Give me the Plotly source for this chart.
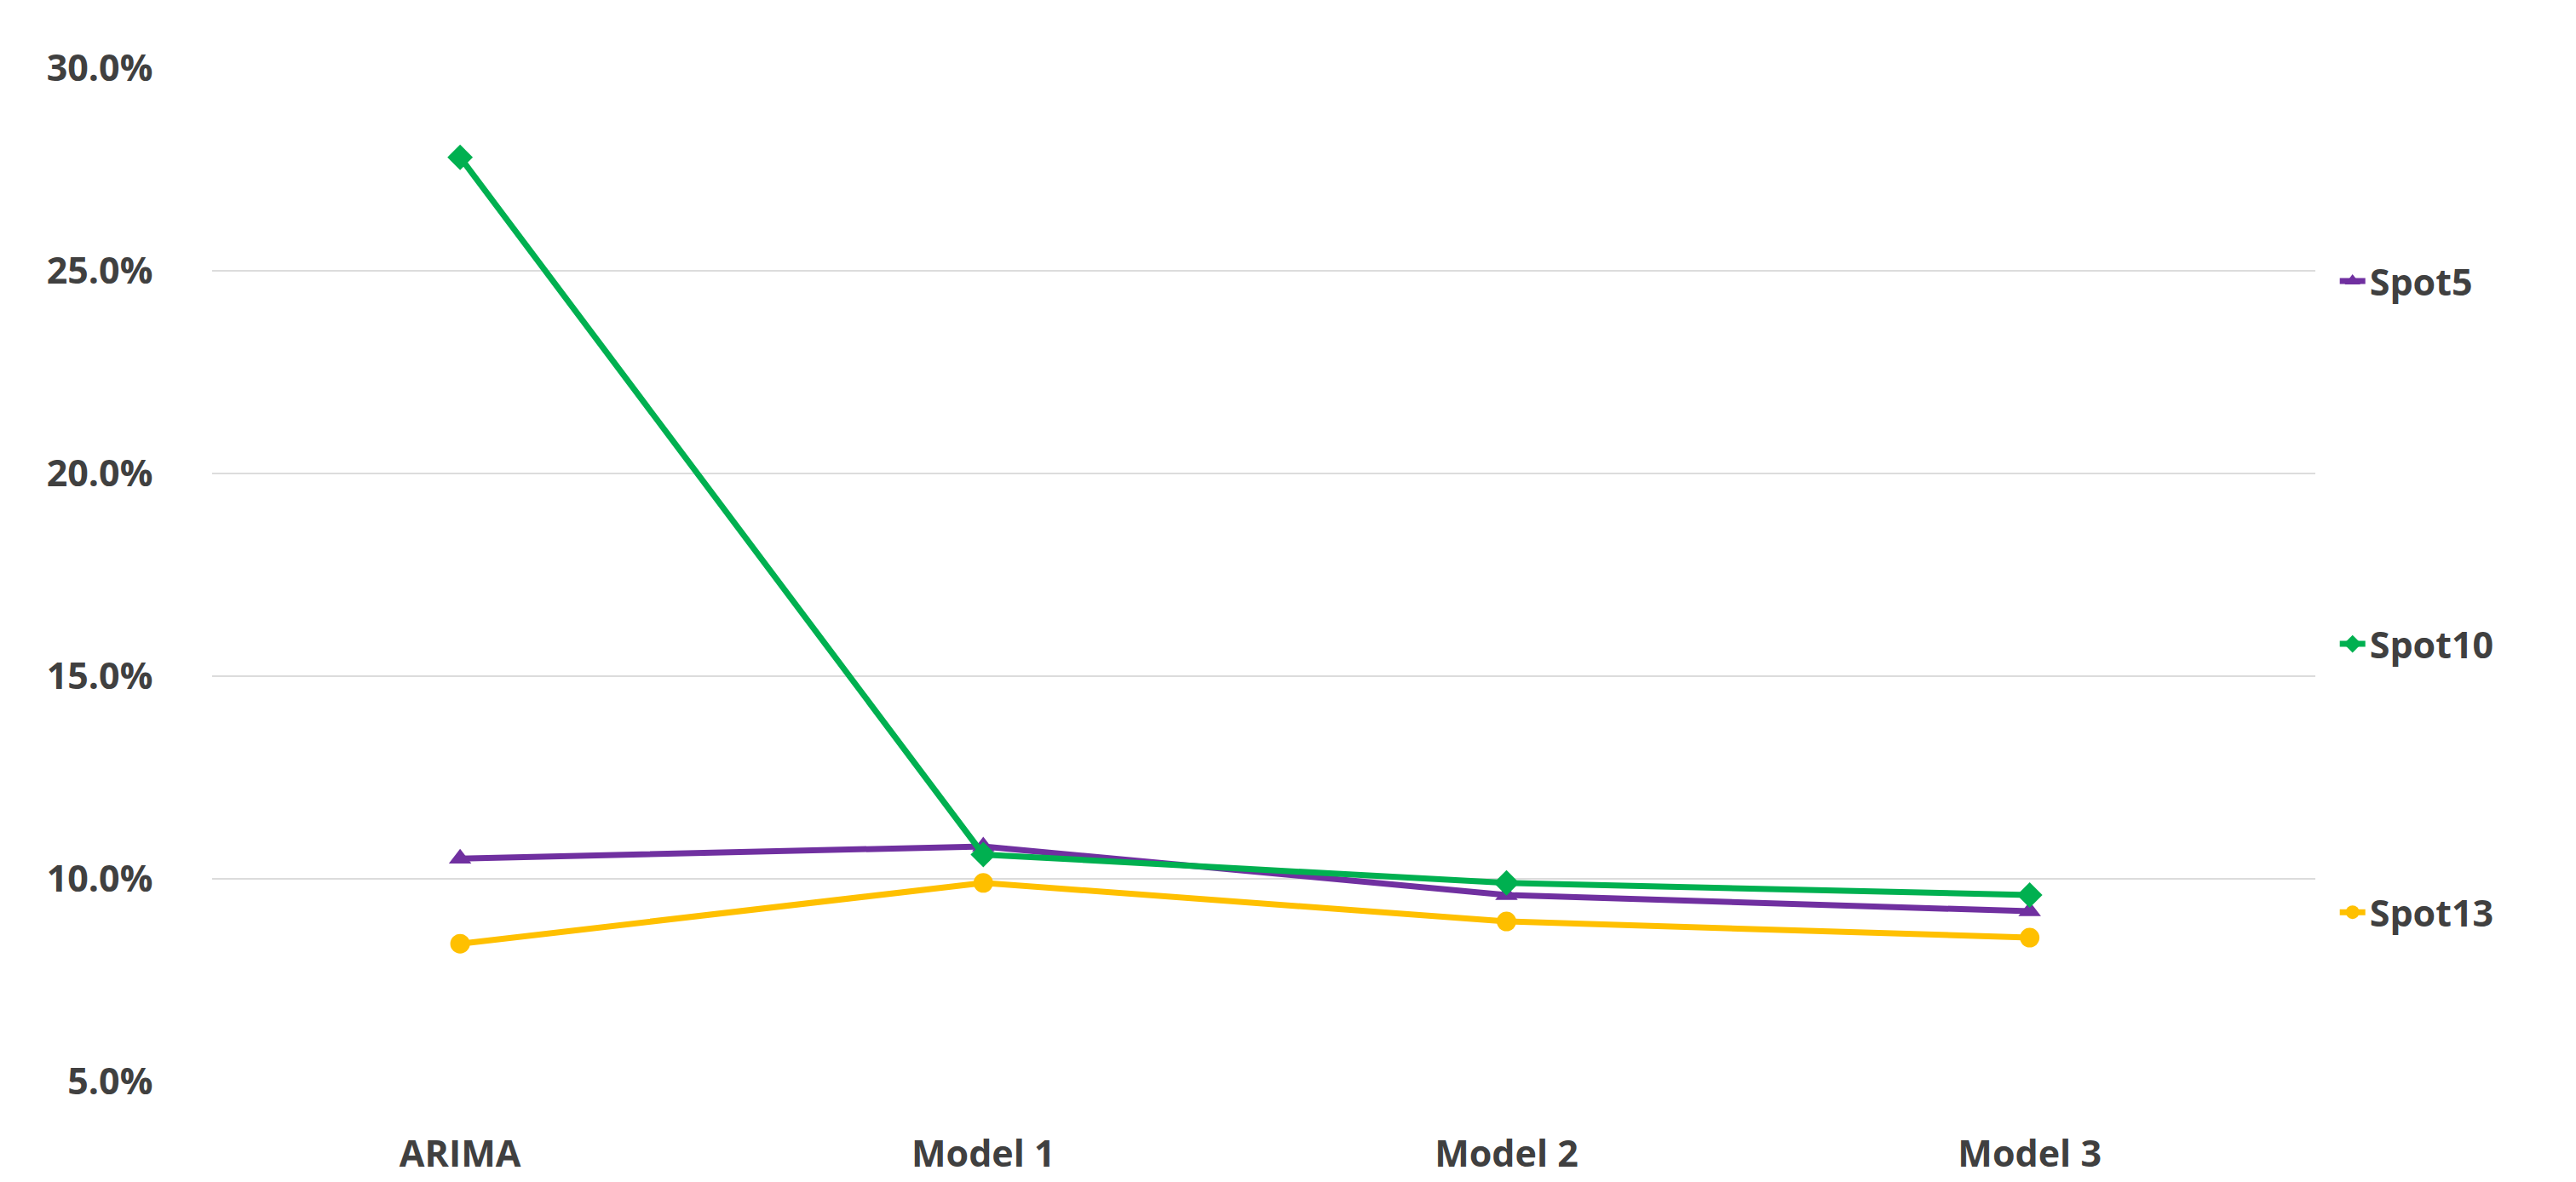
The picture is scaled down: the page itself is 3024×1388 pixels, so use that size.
import plotly.graph_objects as go

# categories and values (fractions, shown as %)
models = ["ARIMA", "Model 1", "Model 2", "Model 3"]
spot5 = [0.105, 0.108, 0.096, 0.092]
spot10 = [0.278, 0.106, 0.099, 0.096]
spot13 = [0.084, 0.099, 0.0895, 0.0855]

y_ticks = [0.05, 0.10, 0.15, 0.20, 0.25, 0.30]

series = [
    ("Spot5", spot5, "#7030A0", "triangle-up", "legend", 0.768),
    ("Spot10", spot10, "#00B050", "diamond", "legend2", 0.461),
    ("Spot13", spot13, "#FFC000", "circle", "legend3", 0.234),
]

label_font = dict(size=43, color="#404040", family="Open Sans", weight="bold")

fig = go.Figure()
legends = {}
for name, vals, color, sym, leg, ly in series:
    fig.add_trace(go.Scatter(
        x=models, y=vals, name=name, mode="lines+markers",
        line=dict(color=color, width=7),
        marker=dict(symbol=sym, size=23, color=color),
        legend=leg,
    ))
    legends[leg] = dict(
        xref="container", yref="container", x=0.904, y=ly,
        xanchor="left", yanchor="middle",
        font=label_font, bgcolor="rgba(0,0,0,0)",
    )

fig.update_layout(
    width=3024, height=1388,
    paper_bgcolor="white", plot_bgcolor="white",
    margin=dict(l=241, r=314, t=71, b=125, autoexpand=False),
    font=dict(family="Open Sans", color="#404040"),
    showlegend=True,
    **legends,
)

fig.update_xaxes(
    type="category", range=[-0.474, 3.546], showgrid=False, showline=False,
    ticks="outside", ticklen=46, tickcolor="rgba(0,0,0,0)",
    tickfont=label_font,
)
fig.update_yaxes(
    range=[0.0498, 0.3002], tickvals=y_ticks, tickformat=".1%",
    showgrid=True, gridcolor="#dcdcdc", gridwidth=2, zeroline=False,
    showline=False, ticks="outside", ticklen=60, tickcolor="rgba(0,0,0,0)",
    tickfont=label_font,
)

fig.write_html("out.html")
